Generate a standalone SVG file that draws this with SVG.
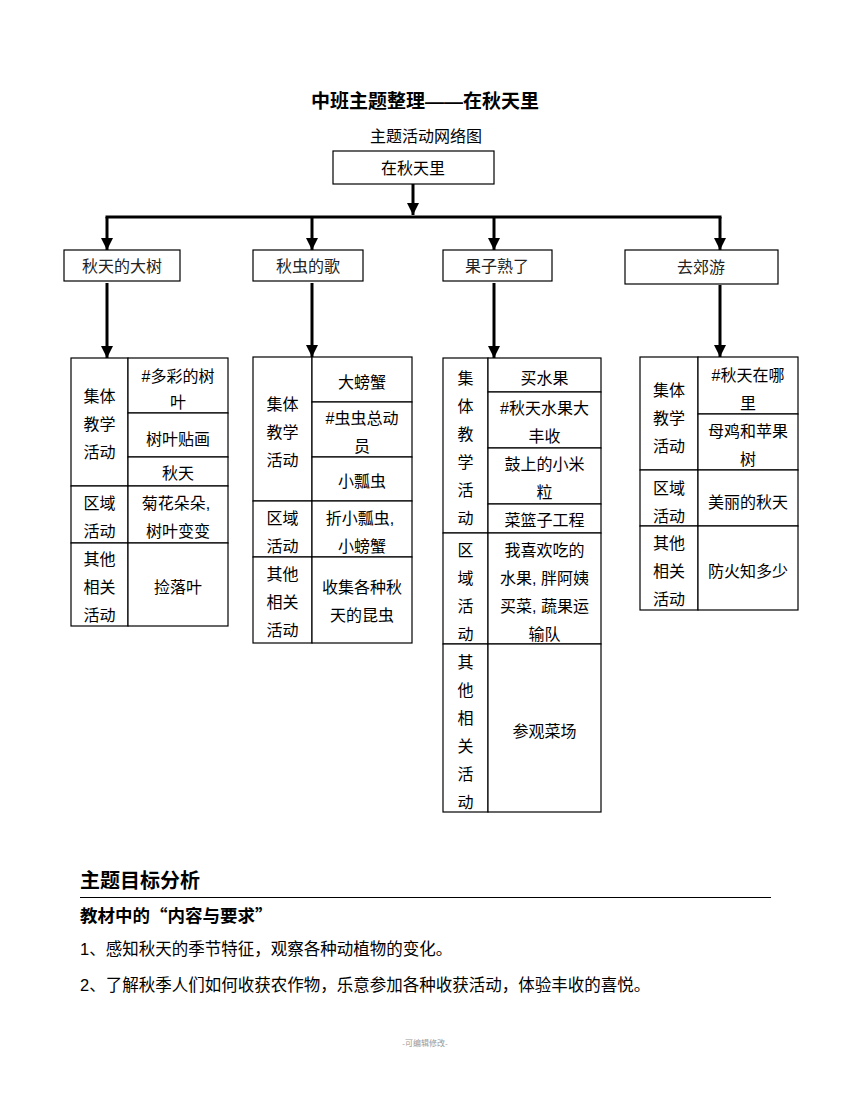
<svg xmlns="http://www.w3.org/2000/svg" width="850" height="1100" viewBox="0 0 850 1100">
<style>
text{font-family:"Liberation Sans","Noto Sans CJK SC",sans-serif;fill:#000;}
.t{font-size:16px;text-anchor:middle;}
.cat{font-size:16px;text-anchor:middle;fill:#222;}
.cell{fill:#fff;stroke:#000;stroke-width:1.2;}
.box{fill:#fff;stroke:#000;stroke-width:1.2;}
.c{stroke:#000;stroke-width:3;fill:none;}
</style>
<defs>
<marker id="ah" markerUnits="userSpaceOnUse" markerWidth="12" markerHeight="12" viewBox="0 0 12 12" refX="12" refY="6" orient="auto">
<path d="M0,0 L12,6 L0,12 Z" fill="#000"/>
</marker>
</defs>
<rect width="850" height="1100" fill="#fff"/>
<text x="425" y="108" style="font-size:19px;font-weight:bold;text-anchor:middle;">中班主题整理——在秋天里</text>
<text x="426" y="142" class="t">主题活动网络图</text>

<g id="connectors">
<line class="c" x1="413" y1="184" x2="413" y2="215" marker-end="url(#ah)"/>
<line class="c" x1="105.5" y1="217" x2="721.5" y2="217"/>
<line class="c" x1="107" y1="217" x2="107" y2="250" marker-end="url(#ah)"/>
<line class="c" x1="312" y1="217" x2="312" y2="250" marker-end="url(#ah)"/>
<line class="c" x1="494" y1="217" x2="494" y2="250" marker-end="url(#ah)"/>
<line class="c" x1="720" y1="217" x2="720" y2="250" marker-end="url(#ah)"/>
<line class="c" x1="107" y1="283" x2="107" y2="358" marker-end="url(#ah)"/>
<line class="c" x1="312" y1="283" x2="312" y2="357" marker-end="url(#ah)"/>
<line class="c" x1="494" y1="283" x2="494" y2="358" marker-end="url(#ah)"/>
<line class="c" x1="720" y1="285" x2="720" y2="357" marker-end="url(#ah)"/>
</g>

<g id="root">
<rect class="box" x="333" y="151" width="161" height="33"/>
<text x="413" y="174" class="t">在秋天里</text>
</g>

<g id="cat1"><rect class="box" x="64" y="250" width="116" height="31"/><text x="122" y="272" class="cat">秋天的大树</text></g>
<g id="cat2"><rect class="box" x="253" y="250" width="110" height="31"/><text x="308" y="272" class="cat">秋虫的歌</text></g>
<g id="cat3"><rect class="box" x="443" y="250" width="109" height="31"/><text x="497" y="272" class="cat">果子熟了</text></g>
<g id="cat4"><rect class="box" x="625" y="250" width="153" height="34"/><text x="701" y="273" class="cat">去郊游</text></g>

<g id="table1">
<rect class="cell" x="71" y="358" width="57" height="128"/>
<rect class="cell" x="71" y="486" width="57" height="57"/>
<rect class="cell" x="71" y="543" width="57" height="83"/>
<rect class="cell" x="128" y="358" width="100" height="55"/>
<rect class="cell" x="128" y="413" width="100" height="44"/>
<rect class="cell" x="128" y="457" width="100" height="29"/>
<rect class="cell" x="128" y="486" width="100" height="57"/>
<rect class="cell" x="128" y="543" width="100" height="83"/>
<text class="t" x="99.5" y="402">集体</text>
<text class="t" x="99.5" y="430">教学</text>
<text class="t" x="99.5" y="458">活动</text>
<text class="t" x="178" y="382">#多彩的树</text>
<text class="t" x="178" y="408">叶</text>
<text class="t" x="178" y="445">树叶贴画</text>
<text class="t" x="178" y="479">秋天</text>
<text class="t" x="99.5" y="509">区域</text>
<text class="t" x="99.5" y="537">活动</text>
<text class="t" x="176" y="509">菊花朵朵,</text>
<text class="t" x="178" y="537">树叶变变</text>
<text class="t" x="99.5" y="565">其他</text>
<text class="t" x="99.5" y="593">相关</text>
<text class="t" x="99.5" y="621">活动</text>
<text class="t" x="178" y="593">捡落叶</text>
</g>

<g id="table2">
<rect class="cell" x="253" y="357" width="59" height="144"/>
<rect class="cell" x="253" y="501" width="59" height="56"/>
<rect class="cell" x="253" y="557" width="59" height="86"/>
<rect class="cell" x="312" y="357" width="100" height="45"/>
<rect class="cell" x="312" y="402" width="100" height="55"/>
<rect class="cell" x="312" y="457" width="100" height="44"/>
<rect class="cell" x="312" y="501" width="100" height="56"/>
<rect class="cell" x="312" y="557" width="100" height="86"/>
<text class="t" x="282.5" y="410">集体</text>
<text class="t" x="282.5" y="438">教学</text>
<text class="t" x="282.5" y="466">活动</text>
<text class="t" x="362" y="388">大螃蟹</text>
<text class="t" x="362" y="424">#虫虫总动</text>
<text class="t" x="362" y="452">员</text>
<text class="t" x="362" y="487">小瓢虫</text>
<text class="t" x="282.5" y="524">区域</text>
<text class="t" x="282.5" y="552">活动</text>
<text class="t" x="360" y="524">折小瓢虫,</text>
<text class="t" x="362" y="552">小螃蟹</text>
<text class="t" x="282.5" y="580">其他</text>
<text class="t" x="282.5" y="608">相关</text>
<text class="t" x="282.5" y="636">活动</text>
<text class="t" x="362" y="593">收集各种秋</text>
<text class="t" x="362" y="621">天的昆虫</text>
</g>

<g id="table3">
<rect class="cell" x="443" y="358" width="45" height="175"/>
<rect class="cell" x="443" y="533" width="45" height="111"/>
<rect class="cell" x="443" y="644" width="45" height="168"/>
<rect class="cell" x="488" y="358" width="113" height="34"/>
<rect class="cell" x="488" y="392" width="113" height="56"/>
<rect class="cell" x="488" y="448" width="113" height="56"/>
<rect class="cell" x="488" y="504" width="113" height="29"/>
<rect class="cell" x="488" y="533" width="113" height="111"/>
<rect class="cell" x="488" y="644" width="113" height="168"/>
<text class="t" x="465.5" y="384">集</text>
<text class="t" x="465.5" y="412">体</text>
<text class="t" x="465.5" y="440">教</text>
<text class="t" x="465.5" y="468">学</text>
<text class="t" x="465.5" y="496">活</text>
<text class="t" x="465.5" y="524">动</text>
<text class="t" x="544.5" y="384">买水果</text>
<text class="t" x="544.5" y="414">#秋天水果大</text>
<text class="t" x="544.5" y="442">丰收</text>
<text class="t" x="544.5" y="470">鼓上的小米</text>
<text class="t" x="544.5" y="498">粒</text>
<text class="t" x="544.5" y="526">菜篮子工程</text>
<text class="t" x="465.5" y="556">区</text>
<text class="t" x="465.5" y="584">域</text>
<text class="t" x="465.5" y="612">活</text>
<text class="t" x="465.5" y="640">动</text>
<text class="t" x="544.5" y="556">我喜欢吃的</text>
<text class="t" x="544.5" y="584">水果, 胖阿姨</text>
<text class="t" x="544.5" y="612">买菜, 蔬果运</text>
<text class="t" x="544.5" y="640">输队</text>
<text class="t" x="465.5" y="668">其</text>
<text class="t" x="465.5" y="696">他</text>
<text class="t" x="465.5" y="724">相</text>
<text class="t" x="465.5" y="752">关</text>
<text class="t" x="465.5" y="780">活</text>
<text class="t" x="465.5" y="808">动</text>
<text class="t" x="544.5" y="737">参观菜场</text>
</g>

<g id="table4">
<rect class="cell" x="640" y="357" width="58" height="113"/>
<rect class="cell" x="640" y="470" width="58" height="56"/>
<rect class="cell" x="640" y="526" width="58" height="84"/>
<rect class="cell" x="698" y="357" width="100" height="57"/>
<rect class="cell" x="698" y="414" width="100" height="56"/>
<rect class="cell" x="698" y="470" width="100" height="56"/>
<rect class="cell" x="698" y="526" width="100" height="84"/>
<text class="t" x="669" y="396">集体</text>
<text class="t" x="669" y="424">教学</text>
<text class="t" x="669" y="452">活动</text>
<text class="t" x="748" y="381">#秋天在哪</text>
<text class="t" x="748" y="409">里</text>
<text class="t" x="748" y="437">母鸡和苹果</text>
<text class="t" x="748" y="465">树</text>
<text class="t" x="669" y="494">区域</text>
<text class="t" x="669" y="522">活动</text>
<text class="t" x="748" y="508">美丽的秋天</text>
<text class="t" x="669" y="549">其他</text>
<text class="t" x="669" y="577">相关</text>
<text class="t" x="669" y="605">活动</text>
<text class="t" x="748" y="577">防火知多少</text>
</g>

<text x="80" y="888" style="font-size:20px;font-weight:bold;">主题目标分析</text>
<line x1="80" y1="897.5" x2="771" y2="897.5" stroke="#000" stroke-width="1.2"/>
<text x="80" y="922" style="font-size:17.5px;font-weight:bold;font-family:'Noto Sans CJK SC',sans-serif;">教材中的“内容与要求”</text>
<text x="80" y="955" style="font-size:16.5px;">1、感知秋天的季节特征，观察各种动植物的变化。</text>
<text x="80" y="991" style="font-size:16.5px;">2、了解秋季人们如何收获农作物，乐意参加各种收获活动，体验丰收的喜悦。</text>
<text x="425" y="1046" style="font-size:8px;text-anchor:middle;fill:#999;">-可编辑修改-</text>
</svg>
